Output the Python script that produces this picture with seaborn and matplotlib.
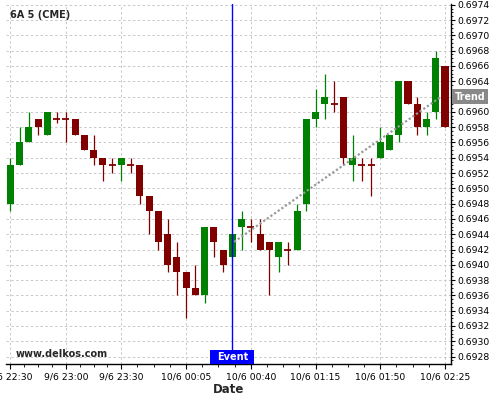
import matplotlib
matplotlib.use("Agg")
import matplotlib.pyplot as plt
import matplotlib.transforms as mtransforms
from matplotlib.patches import Rectangle
import seaborn as sns
import numpy as np
import pandas as pd
from matplotlib.ticker import FixedLocator, MultipleLocator, FuncFormatter

# ---------------- data ----------------
opens  = [0.6948, 0.6953, 0.6956, 0.6959, 0.6957, 0.6959, 0.6959, 0.6959, 0.6957, 0.6955,
          0.6954, 0.6953, 0.6953, 0.6953, 0.6953, 0.6949, 0.6947, 0.6944, 0.6941, 0.6939,
          0.6937, 0.6936, 0.6945, 0.6942, 0.6941, 0.6945, 0.6945, 0.6944, 0.6943, 0.6941,
          0.6942, 0.6942, 0.6948, 0.6959, 0.6961, 0.6961, 0.6962, 0.6953, 0.6953, 0.6953,
          0.6954, 0.6955, 0.6957, 0.6964, 0.6961, 0.6958, 0.6960, 0.6966]
highs  = [0.6954, 0.6958, 0.6960, 0.6959, 0.6960, 0.6960, 0.6960, 0.6959, 0.6957, 0.6957,
          0.6954, 0.6954, 0.6954, 0.6954, 0.6953, 0.6949, 0.6947, 0.6946, 0.6943, 0.6939,
          0.6940, 0.6945, 0.6945, 0.6942, 0.6944, 0.6947, 0.6946, 0.6946, 0.6943, 0.6943,
          0.6943, 0.6948, 0.6959, 0.6963, 0.6965, 0.6964, 0.6962, 0.6957, 0.6954, 0.6954,
          0.6958, 0.6957, 0.6964, 0.6964, 0.6962, 0.6960, 0.6968, 0.6966]
lows   = [0.6947, 0.6953, 0.6956, 0.6957, 0.6957, 0.69585, 0.6956, 0.6957, 0.6955, 0.6953,
          0.6951, 0.6952, 0.6951, 0.6952, 0.6948, 0.6944, 0.6942, 0.6939, 0.6936, 0.6933,
          0.6936, 0.6935, 0.6941, 0.6939, 0.6941, 0.6942, 0.6943, 0.6942, 0.6936, 0.6939,
          0.6940, 0.6942, 0.6947, 0.6958, 0.6959, 0.6960, 0.6953, 0.6951, 0.6951, 0.6949,
          0.6954, 0.6955, 0.6956, 0.6961, 0.6957, 0.6957, 0.6959, 0.6958]
closes = [0.6953, 0.6956, 0.6958, 0.6958, 0.6960, 0.6959, 0.6959, 0.6957, 0.6955, 0.6954,
          0.6953, 0.6953, 0.6954, 0.6953, 0.6949, 0.6947, 0.6943, 0.6940, 0.6939, 0.6937,
          0.6936, 0.6945, 0.6943, 0.6940, 0.6944, 0.6946, 0.6945, 0.6942, 0.6942, 0.6943,
          0.6942, 0.6947, 0.6959, 0.6960, 0.6962, 0.6961, 0.6954, 0.6954, 0.6953, 0.6953,
          0.6956, 0.6957, 0.6964, 0.6961, 0.6958, 0.6959, 0.6967, 0.6958]

tick_index  = [0, 6, 12, 19, 26, 33, 40, 47]
tick_labels = ["9/6 22:30", "9/6 23:00", "9/6 23:30", "10/6 00:05",
               "10/6 00:40", "10/6 01:15", "10/6 01:50", "10/6 02:25"]

event_index = 24
trend_x = [24.2, 46.6]
trend_y = [0.6943, 0.6962]

title_text = "6A 5 (CME)"
watermark = "www.delkos.com"

# ---------------- styling ----------------
sns.set_theme(style="white")
plt.rcParams['font.family'] = ['DejaVu Sans']

GREEN = "#008000"
RED = "#800000"

df = pd.DataFrame({"idx": np.arange(len(opens)), "open": opens, "high": highs,
                   "low": lows, "close": closes})
df["up"] = df["close"] > df["open"]
df["color"] = np.where(df["up"], GREEN, RED)
df["body_lo"] = df[["open", "close"]].min(axis=1)
df["body_h"] = (df["close"] - df["open"]).abs()

fig = plt.figure(figsize=(5, 4), dpi=100)
ax = fig.add_axes([6 / 500, 36 / 400, (451.3 - 6) / 500, (364 - 4) / 400])

# grid
ax.set_axisbelow(True)
ax.grid(True, which="major", color="#c8c8c8", linestyle=(0, (2.5, 2.5)), linewidth=0.7)

# wicks
ax.vlines(df["idx"], df["low"], df["high"], colors=df["color"], linewidth=0.9, zorder=2)
# bodies
body = df[df["body_h"] > 1e-9]
ax.bar(body["idx"], body["body_h"], bottom=body["body_lo"], width=0.76,
       color=body["color"], linewidth=0, zorder=3)
# doji cross bars
doji = df[df["body_h"] <= 1e-9]
ax.hlines(doji["open"], doji["idx"] - 0.38, doji["idx"] + 0.38, colors=doji["color"],
          linewidth=1.3, zorder=3)

# trend line
sns.lineplot(x=trend_x, y=trend_y, ax=ax, color="#999999", linewidth=1.6,
             linestyle=(0, (1, 1)), zorder=4)

# event line
ax.axvline(event_index, color="#0000ff", linewidth=1.0, zorder=5)

# limits
ax.set_xlim(-0.465, 47.68)
ax.set_ylim(0.692703, 0.697410)

# spines
for s in ["top", "left"]:
    ax.spines[s].set_visible(False)
for s in ["right", "bottom"]:
    ax.spines[s].set_visible(True)
    ax.spines[s].set_color("black")
    ax.spines[s].set_linewidth(1.0)

# y axis on right (label hidden under the Trend tag is left blank)
def yfmt(v, p):
    if abs(v - trend_y[1]) < 0.00005:
        return ""
    return f"{v:.4f}"

ax.yaxis.tick_right()
ax.yaxis.set_major_locator(MultipleLocator(0.0002))
ax.yaxis.set_minor_locator(MultipleLocator(0.00005))
ax.yaxis.set_major_formatter(FuncFormatter(yfmt))
ax.tick_params(axis="y", which="major", right=True, left=False, length=3, width=0.8,
               pad=1.5, labelsize=6.7, colors="black")
ax.tick_params(axis="y", which="minor", right=True, left=False, length=1.5, width=0.6, colors="black")

# x axis
ax.xaxis.set_major_locator(FixedLocator(tick_index))
ax.set_xticklabels(tick_labels)
minors = []
for a, b in zip(tick_index[:-1], tick_index[1:]):
    for k in (1, 2, 3):
        minors.append(a + (b - a) * k / 4)
ax.xaxis.set_minor_locator(FixedLocator(minors))
ax.tick_params(axis="x", which="major", bottom=True, length=3.5, width=0.8, pad=2.5,
               labelsize=6.7, colors="black")
ax.tick_params(axis="x", which="minor", bottom=True, length=2, width=0.6, colors="black")
ax.set_xlabel("Date", fontsize=8.5, fontweight="bold", labelpad=1)
ax.set_ylabel("")

# texts
ax.text((10 - 6) / 445.3, (364 - 15.5) / 360, title_text, transform=ax.transAxes,
        fontsize=7, fontweight="bold", ha="left", va="center", zorder=6)
ax.text((15.3 - 6) / 445.3, (364 - 354) / 360, watermark, transform=ax.transAxes,
        fontsize=7, fontweight="bold", ha="left", va="center", zorder=6)

# Event label: blue tag sitting on the x axis, centred on the event line
blend = mtransforms.blended_transform_factory(ax.transData, ax.transAxes)
px_per_idx = (451.3 - 6) / (47.68 + 0.465)
tag_w = 44 / px_per_idx
ax.add_patch(Rectangle((event_index - tag_w / 2, 0), tag_w, 14 / 360, transform=blend,
                       facecolor="#0000ff", edgecolor="none", zorder=7, clip_on=False))
ax.text(event_index, 7.2 / 360, "Event", transform=blend, ha="center", va="center",
        fontsize=7, fontweight="bold", color="white", zorder=8)

# Trend label
ax.annotate("Trend", xy=(1.0, trend_y[1]), xycoords=("axes fraction", "data"),
            xytext=(2.6, 0), textcoords="offset points", ha="left", va="center",
            fontsize=6.9, fontweight="bold", color="white", zorder=10,
            annotation_clip=False,
            bbox=dict(boxstyle="square,pad=0.3", fc="#888888", ec="none"))

fig.savefig("out.png", dpi=100)
